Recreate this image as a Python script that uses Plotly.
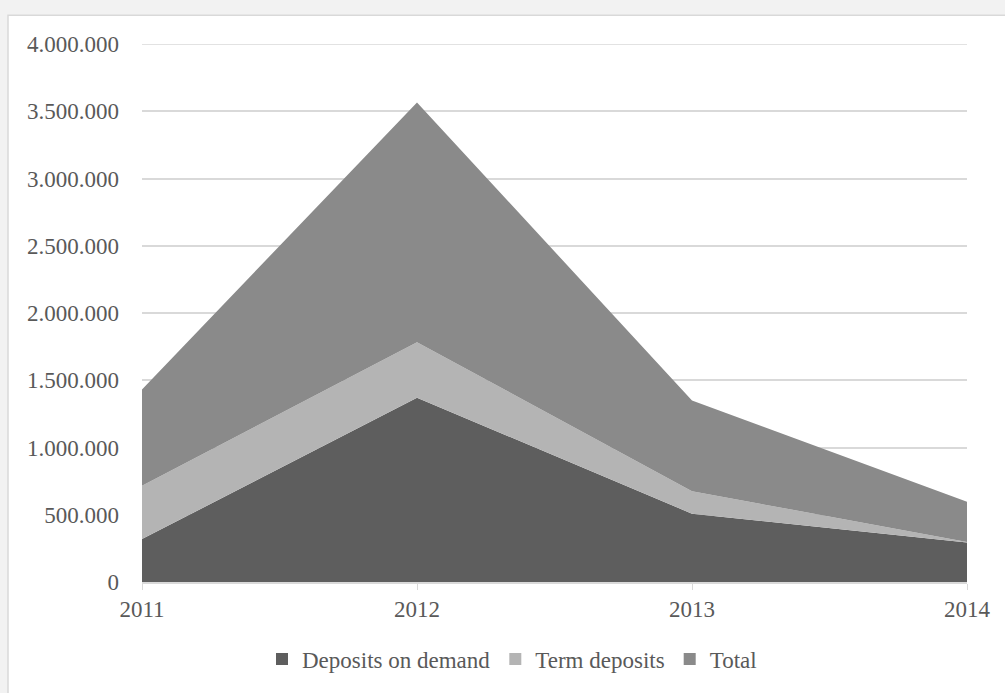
import plotly.graph_objects as go

years = ["2011", "2012", "2013", "2014"]
deposits_on_demand = [319000, 1370000, 508000, 294000]
term_deposits = [397000, 413000, 167000, 4000]
total = [716000, 1783000, 675000, 298000]

y_ticks = [0, 500000, 1000000, 1500000, 2000000, 2500000, 3000000, 3500000, 4000000]
y_tick_text = ["0", "500.000", "1.000.000", "1.500.000", "2.000.000",
               "2.500.000", "3.000.000", "3.500.000", "4.000.000"]
y_max = 4000000

W, H = 1005, 693
ML, MR, MT, MB = 142, 38, 44, 107.5
PW, PH = W - ML - MR, H - MT - MB

series = [
    ("Deposits on demand", deposits_on_demand, "#5e5e5e"),
    ("Term deposits", term_deposits, "#b4b4b4"),
    ("Total", total, "#8a8a8a"),
]

fig = go.Figure()
for name, vals, color in series:
    fig.add_trace(go.Scatter(
        x=years, y=vals, name=name, mode="lines",
        stackgroup="one", line=dict(width=0, color=color),
        fillcolor=color, hoverinfo="x+y+name", showlegend=False,
        legendgroup=name,
    ))
# square legend keys
for name, vals, color in series:
    fig.add_trace(go.Scatter(
        x=[None], y=[None], name=name, mode="markers",
        marker=dict(symbol="square", size=12, color=color),
        legendgroup=name, showlegend=True, hoverinfo="skip",
    ))

font = dict(family="Liberation Serif, Times New Roman, serif", size=23, color="#595959")

# white chart panel on the grey page
fig.add_shape(
    type="rect", xref="paper", yref="paper", layer="below",
    x0=(8 - ML) / PW, x1=(W + 20 - ML) / PW,
    y0=(H - MB - (H + 20)) / PH, y1=(H - MB - 15) / PH,
    fillcolor="white", line=dict(color="#d9d9d9", width=1.5),
)
# gridline at the top of the value axis
fig.add_shape(
    type="line", xref="paper", yref="y", layer="below",
    x0=0, x1=1, y0=y_max, y1=y_max,
    line=dict(color="#d9d9d9", width=1.5),
)

fig.update_layout(
    width=W, height=H,
    margin=dict(l=ML, r=MR, t=MT, b=MB, pad=0),
    paper_bgcolor="#f2f2f2", plot_bgcolor="rgba(0,0,0,0)",
    font=font,
    showlegend=True,
    legend=dict(orientation="h", x=(512 - ML) / PW, xanchor="center",
                y=(H - MB - 663) / PH, yanchor="middle",
                font=font, itemwidth=30, traceorder="normal",
                bgcolor="rgba(0,0,0,0)", tracegroupgap=0),
    xaxis=dict(type="category", range=[0, 3], showgrid=False,
               showline=True, linecolor="#d9d9d9", linewidth=1.5,
               ticks="outside", ticklen=6, tickcolor="#d9d9d9",
               tickfont=font, zeroline=False, fixedrange=True),
    yaxis=dict(range=[0, y_max + 500], tickvals=y_ticks, ticktext=y_tick_text,
               showgrid=True, gridcolor="#d9d9d9", gridwidth=1.5,
               zeroline=False, showline=False, ticks="", ticklabelstandoff=22,
               tickfont=font, fixedrange=True),
)

fig.write_html("out.html")
